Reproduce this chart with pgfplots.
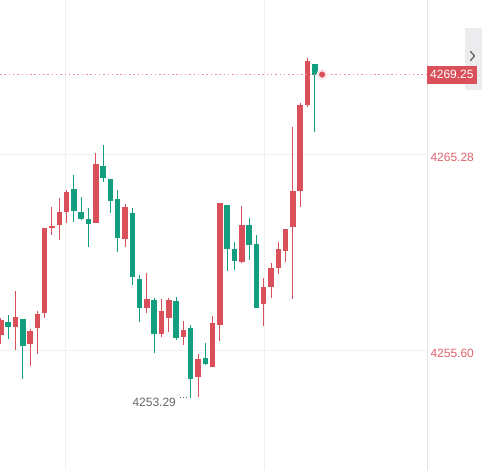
\documentclass[border=0pt]{standalone}
\usepackage{pgfplots}
\usepackage{pgfplotstable}
\usepackage{fontspec}
\setmainfont{Liberation Sans}
\pgfplotsset{compat=1.18}

\definecolor{upred}{HTML}{D9505B}
\definecolor{downgreen}{HTML}{139E80}
\definecolor{gridgray}{HTML}{F0F0F2}
\definecolor{sepgray}{HTML}{E4E4E6}
\definecolor{panelgray}{HTML}{ECECEE}
\definecolor{dotpink}{HTML}{E8939C}
\definecolor{lowgray}{HTML}{666666}

\newcommand{\lab}{\fontsize{12bp}{14bp}\selectfont}

% candles: index, open, high, low, close
\pgfplotstableread{
i  o       h       l       c
0  4256.39 4257.23 4255.95 4257.13
2  4256.79 4258.56 4255.65 4257.28
4  4255.95 4256.69 4254.86 4256.59
5  4256.74 4257.58 4255.45 4257.43
6  4257.48 4261.68 4257.23 4261.68
7  4261.68 4262.71 4261.33 4261.77
8  4261.82 4263.16 4261.08 4262.47
9  4262.47 4263.55 4261.92 4263.45
13 4261.92 4265.38 4261.92 4264.84
17 4261.13 4262.86 4260.74 4262.71
20 4257.72 4259.45 4257.48 4258.17
22 4256.44 4258.17 4256.29 4257.58
23 4257.23 4258.22 4256.54 4258.12
25 4256.29 4257.08 4255.90 4256.64
27 4254.32 4255.45 4253.33 4255.21
29 4254.81 4257.33 4254.81 4256.98
30 4256.89 4262.91 4256.10 4262.91
33 4260.00 4262.76 4259.95 4261.82
36 4257.92 4259.21 4256.84 4258.76
37 4258.76 4259.95 4258.22 4259.70
38 4259.70 4260.98 4259.40 4260.64
39 4260.54 4261.63 4260.00 4261.63
40 4261.72 4266.66 4258.17 4263.50
41 4263.50 4267.85 4262.71 4267.75
42 4267.75 4270.07 4267.65 4269.92
}\upcandles

\pgfplotstableread{
i  o       h       l       c
1  4257.03 4257.38 4256.19 4256.79
3  4257.18 4257.18 4254.22 4255.85
10 4263.60 4264.29 4261.97 4262.51
11 4262.47 4263.21 4262.07 4262.12
12 4262.12 4262.66 4260.74 4261.87
14 4264.74 4265.77 4263.95 4264.14
15 4264.09 4264.09 4262.42 4263.01
16 4263.11 4263.55 4260.49 4261.18
18 4262.42 4262.66 4258.86 4259.26
19 4259.16 4259.35 4257.03 4257.72
21 4258.12 4258.22 4255.50 4256.44
24 4258.07 4258.27 4256.14 4256.24
26 4256.74 4256.89 4253.29 4254.22
28 4255.26 4256.00 4254.91 4254.96
31 4262.81 4262.81 4259.55 4260.64
32 4260.64 4260.98 4259.60 4260.05
34 4261.82 4262.17 4260.09 4260.84
35 4260.89 4261.33 4257.72 4257.72
43 4269.77 4269.77 4266.42 4269.25
}\downcandles

\pgfplotsset{
  wick/.style={draw=none, mark=none, forget plot,
    error bars/.cd, y dir=both, y explicit, error mark=none,
    error bar style={draw=#1, line width=1bp}},
  body/.style={draw=none, mark=none, forget plot,
    error bars/.cd, y dir=both, y explicit, error mark=none,
    error bar style={draw=#1, line width=5.5bp}},
}

\begin{document}
\begin{tikzpicture}
\useasboundingbox (0,0) rectangle (482bp,470bp);
% scroll button at the top right
\fill[panelgray] (465bp,380bp) rectangle (482bp,442bp);
\draw[black!65, line width=1.2bp, line cap=round, line join=round]
  (470.5bp,418.5bp) -- (474.5bp,414bp) -- (470.5bp,409.5bp);

\begin{axis}[
  at={(0,0)}, anchor=south west,
  width=427bp, height=470bp, scale only axis,
  xmin=-0.123, xmax=58.37,
  ymin=4249.72, ymax=4272.93,
  axis line style={draw=none},
  major tick length=0pt,
  xtick={8.85,36.11,58.37}, xmajorticks=false,
  ytick={4255.60,4265.28}, yticklabels={4255.60,4265.28},
  yticklabel pos=right,
  yticklabel style={font=\lab, text=upred!90, anchor=west, yshift=-2bp},
  grid=major,
  grid style={draw=gridgray, line width=1bp},
  clip mode=individual,
]
% separator between plot and price scale
\draw[sepgray, line width=1bp] (rel axis cs:1,0) -- (rel axis cs:1,1);
% wicks
\addplot[wick=upred] table[x=i, y expr={(\thisrow{h}+\thisrow{l})/2},
  y error expr={(\thisrow{h}-\thisrow{l})/2}] {\upcandles};
\addplot[wick=downgreen] table[x=i, y expr={(\thisrow{h}+\thisrow{l})/2},
  y error expr={(\thisrow{h}-\thisrow{l})/2}] {\downcandles};
% bodies
\addplot[body=upred] table[x=i, y expr={(\thisrow{o}+\thisrow{c})/2},
  y error expr={abs(\thisrow{o}-\thisrow{c})/2}] {\upcandles};
\addplot[body=downgreen] table[x=i, y expr={(\thisrow{o}+\thisrow{c})/2},
  y error expr={abs(\thisrow{o}-\thisrow{c})/2}] {\downcandles};

% last price line and marker
\addplot[dotpink, line width=0.9bp, dash pattern=on 1.5bp off 2.8bp, forget plot]
  coordinates {(-0.123,4269.25) (58.37,4269.25)};
\addplot[only marks, mark=*, mark size=5.5bp, mark options={draw=upred!12, fill=upred!12}, forget plot]
  coordinates {(44,4269.25)};
\addplot[only marks, mark=*, mark size=2.8bp, mark options={draw=upred, fill=upred}, forget plot]
  coordinates {(44,4269.25)};

% low marker
\addplot[lowgray, line width=0.9bp, dash pattern=on 1bp off 2bp, forget plot]
  coordinates {(24.55,4253.29) (25.6,4253.29)};
\node[anchor=east, inner sep=0pt, text=lowgray, font=\lab] at (axis cs:24.0,4253.08) {4253.29};

% last price label
\node[anchor=west, fill=upred, text=white, font=\lab, inner xsep=3bp, inner ysep=0pt,
  minimum height=18bp] at (axis cs:58.37,4269.25) {4269.25};
\end{axis}
\end{tikzpicture}
\end{document}
